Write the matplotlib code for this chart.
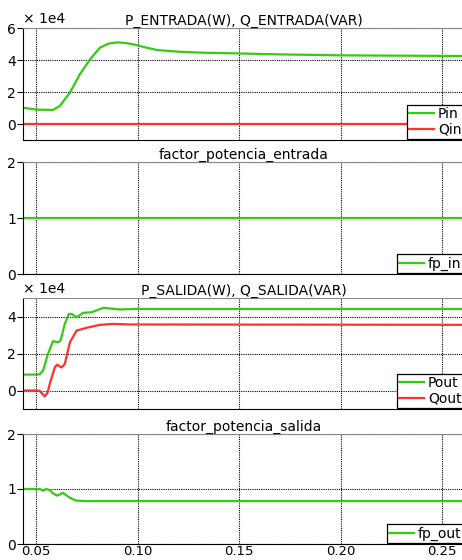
import matplotlib
matplotlib.use('Agg')
import matplotlib.pyplot as plt

GREEN = '#33cc11'
RED = '#ff3030'

# Panel 1: input power (units of 1e4)
t_pin = [0.0433, 0.0501, 0.0582, 0.0616, 0.0666, 0.0715, 0.0765, 0.0814,
         0.0855, 0.0897, 0.0937, 0.0978, 0.1040, 0.1097, 0.1200, 0.1310,
         0.1463, 0.1700, 0.2007, 0.2300, 0.2606]
pin = [1.02, 0.90, 0.88, 1.12, 1.96, 3.10, 4.04, 4.77,
       5.02, 5.10, 5.07, 4.98, 4.78, 4.62, 4.52, 4.46,
       4.42, 4.35, 4.29, 4.27, 4.25]
t_qin = [0.0433, 0.2606]
qin = [0.0, 0.0]

# Panel 2: input power factor
t_fpin = [0.0433, 0.2606]
fp_in = [1.0, 1.0]

# Panel 3: output power (units of 1e4)
t_pout = [0.0433, 0.0501, 0.0517, 0.0534, 0.0558, 0.0583, 0.0608, 0.0620,
          0.0641, 0.0661, 0.0674, 0.0699, 0.0732, 0.0773, 0.0831, 0.0913,
          0.0996, 0.2606]
pout = [0.86, 0.86, 0.88, 1.08, 1.98, 2.67, 2.60, 2.70,
        3.60, 4.14, 4.14, 3.96, 4.20, 4.23, 4.47, 4.38,
        4.41, 4.41]
t_qout = [0.0433, 0.0501, 0.0517, 0.0542, 0.0555, 0.0567, 0.0592, 0.0603,
          0.0625, 0.0641, 0.0666, 0.0699, 0.0749, 0.0814, 0.0880, 0.0960,
          0.2606]
qout = [0.0, 0.0, -0.02, -0.32, -0.14, 0.36, 1.26, 1.40,
        1.24, 1.44, 2.60, 3.24, 3.39, 3.55, 3.60, 3.57,
        3.55]

# Panel 4: output power factor
t_fpout = [0.0433, 0.0501, 0.0517, 0.0534, 0.0550, 0.0567, 0.0583, 0.0603,
           0.0632, 0.0666, 0.0696, 0.0749, 0.0814, 0.2606]
fp_out = [1.0, 1.0, 1.0, 0.97, 1.0, 0.98, 0.92, 0.88,
          0.93, 0.84, 0.79, 0.78, 0.78, 0.78]

xticks = [0.05, 0.10, 0.15, 0.20, 0.25]
xlim = (0.0435, 0.2608)

fig = plt.figure(figsize=(4.62, 5.60), dpi=100)
left, width = 23 / 462, 441 / 462
boxes = [(140, 112), (274, 112), (409, 111), (544, 110)]
axes = [fig.add_axes([left, 1 - b / 560, width, h / 560]) for b, h in boxes]


def style(ax, title, ylim, yticks, labels):
    ax.set_xlim(*xlim)
    ax.set_ylim(*ylim)
    ax.set_yticks(yticks)
    ax.set_yticklabels(labels)
    ax.set_xticks(xticks)
    ax.grid(True, color='black', linestyle=(0, (1, 1)), linewidth=0.8)
    ax.spines['left'].set_color('black')
    ax.spines['bottom'].set_color('black')
    ax.spines['top'].set_color('#888888')
    ax.spines['right'].set_visible(False)
    ax.tick_params(axis='y', direction='out', length=4, width=0.8, pad=1, labelsize=10)
    ax.tick_params(axis='x', length=0, pad=0.5, labelsize=9.5, labelbottom=False)
    ax.set_title(title, fontsize=10, pad=2)
    # frame runs right up to the figure edge, text stays inside
    leg = ax.legend(loc='lower right', bbox_to_anchor=(1 + 1 / 441, 0),
                    fontsize=10, fancybox=False, framealpha=1,
                    edgecolor='black', borderaxespad=0.1, borderpad=0.15,
                    handlelength=1.8, handletextpad=0.3, labelspacing=0.1)
    leg.get_frame().set_linewidth(0.9)


ax = axes[0]
ax.plot(t_pin, pin, color=GREEN, lw=1.6, label='Pin')
ax.plot(t_qin, qin, color=RED, lw=1.6, label='Qin')
style(ax, 'P_ENTRADA(W), Q_ENTRADA(VAR)', (-1, 6), [0, 2, 4, 6], ['0', '2', '4', '6'])
ax.text(0.0, 1.02, '× 1e4', transform=ax.transAxes, ha='left', va='bottom', fontsize=10)

ax = axes[1]
ax.plot(t_fpin, fp_in, color=GREEN, lw=1.6, label='fp_in')
style(ax, 'factor_potencia_entrada', (0, 2), [0, 1, 2], ['0', '1', '2'])

ax = axes[2]
ax.plot(t_pout, pout, color=GREEN, lw=1.6, label='Pout')
ax.plot(t_qout, qout, color=RED, lw=1.6, label='Qout')
style(ax, 'P_SALIDA(W), Q_SALIDA(VAR)', (-1, 5), [0, 2, 4], ['0', '2', '4'])
ax.text(0.0, 1.02, '× 1e4', transform=ax.transAxes, ha='left', va='bottom', fontsize=10)

ax = axes[3]
ax.plot(t_fpout, fp_out, color=GREEN, lw=1.6, label='fp_out')
style(ax, 'factor_potencia_salida', (0, 2), [0, 1, 2], ['0', '1', '2'])
ax.tick_params(axis='x', labelbottom=True)
ax.set_xticklabels(['0.05', '0.10', '0.15', '0.20', '0.25'])

fig.savefig('out.png', dpi=100)
